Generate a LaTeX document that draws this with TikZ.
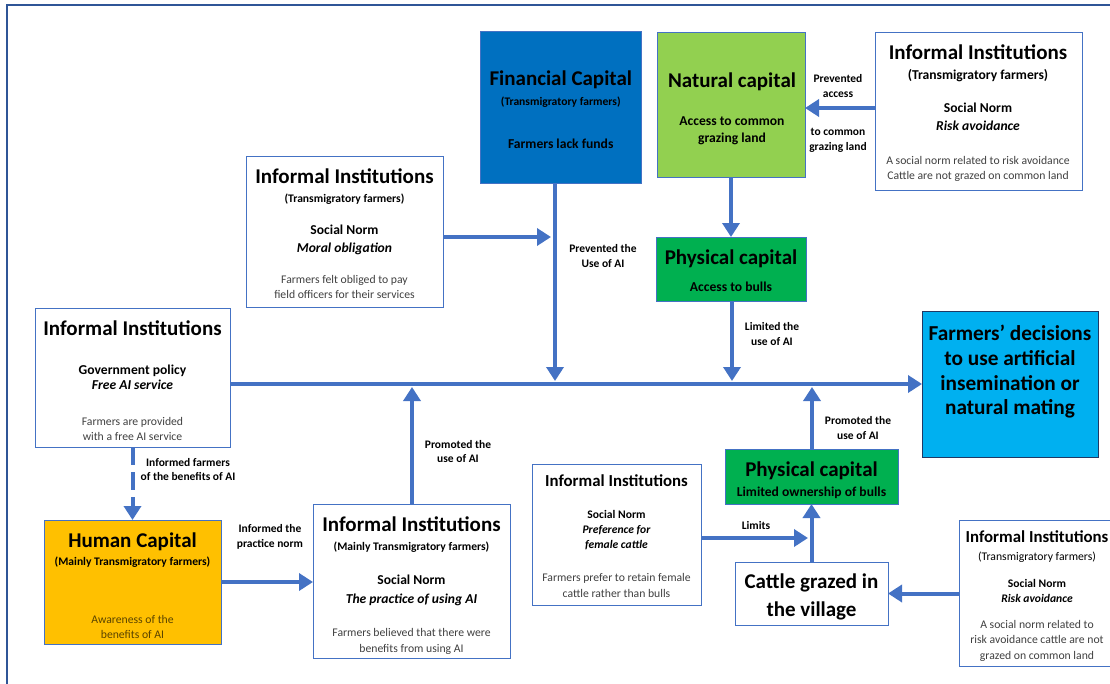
\documentclass[tikz,border=0pt]{standalone}
\usepackage{fontspec}
\setmainfont{Carlito}
\usetikzlibrary{arrows.meta}
\definecolor{arrowblue}{HTML}{4472C4}
\definecolor{framecol}{HTML}{2F5597}
\definecolor{finblue}{HTML}{0070C0}
\definecolor{natgreen}{HTML}{92D050}
\definecolor{physgreen}{HTML}{00B050}
\definecolor{decblue}{HTML}{00B0F0}
\definecolor{decedge}{HTML}{203864}
\definecolor{humgold}{HTML}{FFC000}
\definecolor{descgray}{HTML}{404040}
\definecolor{humtext}{HTML}{5A4400}
\newcommand\fsz[1]{\fontsize{#1}{#1}\selectfont}
\tikzset{
  box/.style={draw=arrowblue, line width=0.9pt, inner sep=0pt, outer sep=0pt},
  txt/.style={inner sep=0pt, outer sep=0pt, anchor=center, text depth=0pt},
  ttl/.style={txt, font=\fsz{21}\bfseries, text height=16pt},
  ttlsmall/.style={txt, font=\fsz{16.8}\bfseries, text height=13.5pt},
  sub/.style={txt, font=\fsz{11.6}\bfseries, text height=11pt},
  body/.style={txt, font=\fsz{13.6}\bfseries, text height=12pt},
  bodyit/.style={txt, font=\fsz{13.6}\bfseries\itshape, text height=12pt},
  smallb/.style={txt, font=\fsz{11.6}\bfseries, text height=11pt},
  smallit/.style={txt, font=\fsz{11.6}\bfseries\itshape, text height=11pt},
  desc/.style={txt, font=\fsz{11.7}, text=descgray, text height=11pt},
  lbl/.style={txt, font=\fsz{11.5}\bfseries, text height=11pt},
  dectxt/.style={txt, font=\fsz{21.3}\bfseries, text height=16pt},
  arr/.style={draw=arrowblue, line width=4pt, -{Triangle[width=17pt,length=14pt]}},
}
\begin{document}
\begin{tikzpicture}[x=1pt,y=-1pt]
\useasboundingbox (0,0) rectangle (1110,683);
% outer frame
\draw[framecol, line width=2.2pt] (7,700) -- (7,5) -- (1130,5);

% ---- boxes ----
\node[box, fill=finblue, minimum width=160.5pt, minimum height=152pt] (fin) at (560.75,107) {};
\node[box, fill=natgreen, minimum width=148pt, minimum height=145pt] (nat) at (731,104.5) {};
\node[box, fill=white, minimum width=207pt, minimum height=158.5pt] (tr) at (978.5,111.25) {};
\node[box, fill=white, minimum width=197pt, minimum height=151pt] (moral) at (344.5,231.5) {};
\node[box, fill=physgreen, minimum width=150pt, minimum height=64pt] (phys1) at (731,269) {};
\node[box, fill=white, minimum width=195pt, minimum height=139pt] (gov) at (132.5,377.5) {};
\node[box, draw=decedge, fill=decblue, minimum width=176pt, minimum height=146pt] (dec) at (1010,384) {};
\node[box, fill=humgold, minimum width=177pt, minimum height=124pt] (hum) at (132.5,582) {};
\node[box, fill=white, minimum width=197pt, minimum height=154pt] (prac) at (411.5,581) {};
\node[box, fill=white, minimum width=169pt, minimum height=141pt] (pref) at (616.5,534.5) {};
\node[box, fill=physgreen, minimum width=173pt, minimum height=55pt] (phys2) at (811.5,476.5) {};
\node[box, fill=white, minimum width=153pt, minimum height=63pt] (cattle) at (811.5,593.5) {};
\node[box, fill=white, minimum width=157pt, minimum height=146pt] (rb) at (1037.5,593) {};

% ---- box texts ----
\node[ttl] (finT) at (560.75,77) {Financial Capital};
\node[sub] (finS) at (560.75,100) {(Transmigratory farmers)};
\node[body] (finB) at (560.75,142) {Farmers lack funds};

\node[ttl] (natT) at (732,79) {Natural capital};
\node[body] (natB1) at (732,119) {Access to common};
\node[body] (natB2) at (732,136) {grazing land};

\node[ttl] (trT) at (978,51) {Informal Institutions};
\node[body] (trS) at (978,73) {(Transmigratory farmers)};
\node[body] (trN) at (978,106) {Social Norm};
\node[bodyit] (trI) at (978,124) {Risk avoidance};
\node[desc] (trD1) at (978,159) {A social norm related to risk avoidance};
\node[desc] (trD2) at (978,174) {Cattle are not grazed on common land};

\node[ttl] (moralT) at (344.5,175) {Informal Institutions};
\node[sub] (moralS) at (344.5,197) {(Transmigratory farmers)};
\node[body] (moralN) at (344.5,228) {Social Norm};
\node[bodyit] (moralI) at (344.5,246) {Moral obligation};
\node[desc] (moralD1) at (344.5,278) {Farmers felt obliged to pay};
\node[desc] (moralD2) at (344.5,293) {field officers for their services};

\node[ttl] (phys1T) at (731,256) {Physical capital};
\node[body] (phys1B) at (731,285) {Access to bulls};

\node[ttl] (govT) at (132.5,327) {Informal Institutions};
\node[body] (govN) at (132.5,368) {Government policy};
\node[bodyit] (govI) at (132.5,383) {Free AI service};
\node[desc] (govD1) at (132.5,420) {Farmers are provided};
\node[desc] (govD2) at (132.5,435) {with a free AI service};

\node[dectxt] (decL1) at (1010,332) {Farmers’ decisions};
\node[dectxt] (decL2) at (1010,357) {to use artificial};
\node[dectxt] (decL3) at (1010,382) {insemination or};
\node[dectxt] (decL4) at (1010,406) {natural mating};

\node[ttl] (humT) at (132.5,539) {Human Capital};
\node[sub] (humS) at (132.5,560) {(Mainly Transmigratory farmers)};
\node[desc, text=humtext] (humD1) at (132.5,618) {Awareness of the};
\node[desc, text=humtext] (humD2) at (132.5,633) {benefits of AI};

\node[ttl] (pracT) at (411.5,523) {Informal Institutions};
\node[sub] (pracS) at (411.5,545) {(Mainly Transmigratory farmers)};
\node[body] (pracN) at (411.5,578) {Social Norm};
\node[bodyit] (pracI) at (411.5,597) {The practice of using AI};
\node[desc] (pracD1) at (411.5,631) {Farmers believed that there were};
\node[desc] (pracD2) at (411.5,647) {benefits from using AI};

\node[ttlsmall] (prefT) at (616.5,480) {Informal Institutions};
\node[smallb] (prefN) at (616.5,513) {Social Norm};
\node[smallit] (prefI1) at (616.5,528) {Preference for};
\node[smallit] (prefI2) at (616.5,543) {female cattle};
\node[desc] (prefD1) at (616.5,576) {Farmers prefer to retain female};
\node[desc] (prefD2) at (616.5,592) {cattle rather than bulls};

\node[ttl] (phys2T) at (811.5,468) {Physical capital};
\node[body] (phys2B) at (811.5,490) {Limited ownership of bulls};

\node[ttl] (cattleL1) at (811.5,580) {Cattle grazed in};
\node[ttl] (cattleL2) at (811.5,608) {the village};

\node[ttlsmall] (rbT) at (1037,536) {Informal Institutions};
\node[desc, text=black] (rbS) at (1037,555) {(Transmigratory farmers)};
\node[smallb] (rbN) at (1037,582) {Social Norm};
\node[smallit] (rbI) at (1037,597) {Risk avoidance};
\node[desc] (rbD1) at (1037,623) {A social norm related to};
\node[desc] (rbD2) at (1037,638) {risk avoidance cattle are not};
\node[desc] (rbD3) at (1037,654) {grazed on common land};

% ---- connector end points ----
\coordinate (tipFin) at (555,381);
\coordinate (tipMoral) at (551,237);
\coordinate (tipPhys1) at (732,381);
\coordinate (tipPrac) at (412,387);
\coordinate (tipPhys2) at (812,387);
\coordinate (tipPref) at (808,538);
\coordinate (lvlNat) at (0,108);

% ---- connectors ----
\draw[arr] (gov.east |- dec.west) -- (dec.west);
\draw[arr] (fin.south -| tipFin) -- (tipFin);
\draw[arr] (moral.east |- tipMoral) -- (tipMoral);
\draw[arr] (nat.south) -- (phys1.north);
\draw[arr] (phys1.south -| tipPhys1) -- (tipPhys1);
\draw[arr] (prac.north -| tipPrac) -- (tipPrac);
\draw[arr] (phys2.north -| tipPhys2) -- (tipPhys2);
\draw[arr] (cattle.north) -- (phys2.south);
\draw[arr] (pref.east |- tipPref) -- (tipPref);
\draw[arr] (rb.west |- cattle.east) -- (cattle.east);
\draw[arr] (tr.west |- lvlNat) -- (nat.east |- lvlNat);
\draw[arr, dash pattern=on 18pt off 7pt] (gov.south) -- (hum.north);
\draw[arr] (hum.east) -- (prac.west |- hum.east);

% ---- connector labels ----
\node[lbl] (lFin1) at (603,247) {Prevented the};
\node[lbl] (lFin2) at (603,262) {Use of AI};
\node[lbl] (lPh11) at (772,325) {Limited the};
\node[lbl] (lPh12) at (772,340) {use of AI};
\node[lbl] (lPr1) at (458,443) {Promoted the};
\node[lbl] (lPr2) at (458,457) {use of AI};
\node[lbl] (lPh21) at (858,419) {Promoted the};
\node[lbl] (lPh22) at (858,434) {use of AI};
\node[lbl] (lLim) at (756,524) {Limits};
\node[lbl] (lNat1) at (838,77) {Prevented};
\node[lbl] (lNat2) at (838,92) {access};
\node[lbl] (lNat3) at (838,130) {to common};
\node[lbl] (lNat4) at (838,145) {grazing land};
\node[lbl] (lGov1) at (188,461) {Informed farmers};
\node[lbl] (lGov2) at (188,475) {of the benefits of AI};
\node[lbl] (lHum1) at (270,527) {Informed the};
\node[lbl] (lHum2) at (270,542) {practice norm};
\end{tikzpicture}
\end{document}
